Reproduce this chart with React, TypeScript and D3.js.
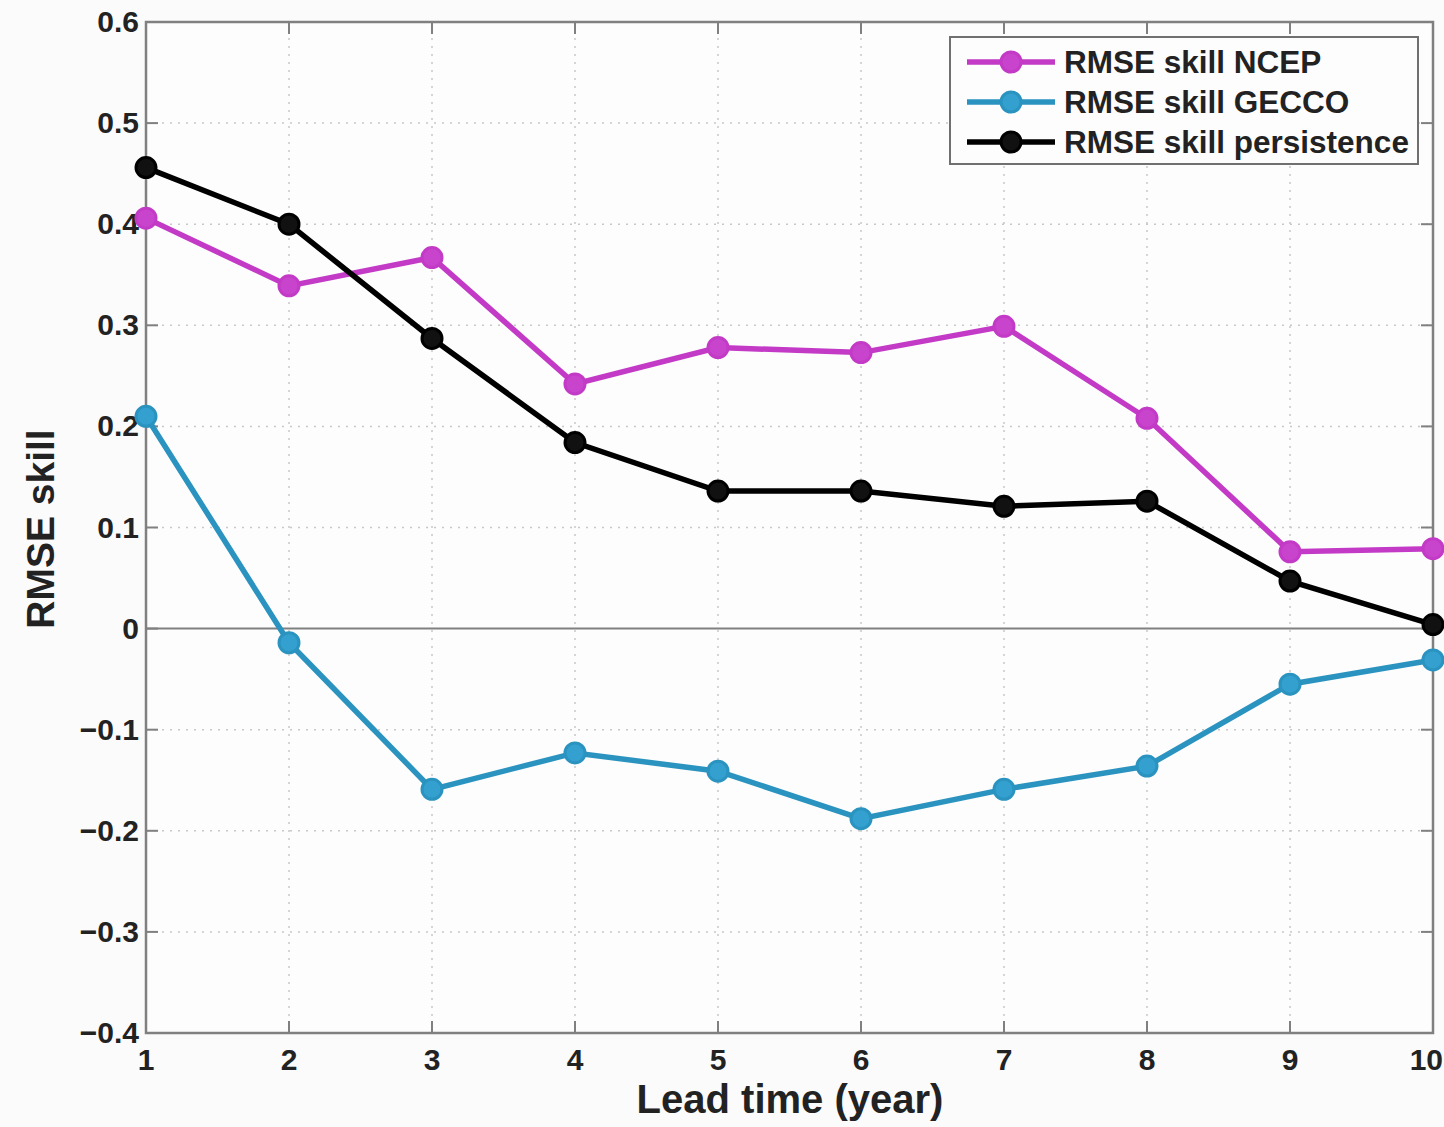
import React from "react";
import * as d3 from "d3";

const leadTimes = [1, 2, 3, 4, 5, 6, 7, 8, 9, 10];
const ncep = [0.406, 0.339, 0.367, 0.242, 0.278, 0.273, 0.299, 0.208, 0.076, 0.079];
const gecco = [0.21, -0.014, -0.159, -0.123, -0.141, -0.188, -0.159, -0.136, -0.055, -0.031];
const persistence = [0.456, 0.4, 0.287, 0.184, 0.136, 0.136, 0.121, 0.126, 0.047, 0.004];
const yTicks = [-0.4, -0.3, -0.2, -0.1, 0, 0.1, 0.2, 0.3, 0.4, 0.5, 0.6];
const seriesNames = ["RMSE skill NCEP", "RMSE skill GECCO", "RMSE skill persistence"];

const W = 1444, H = 1127;
const L = 146, R = 1433, T = 22, B = 1033;

export default function App() {
  const x = d3.scaleLinear().domain([1, 10]).range([L, R]);
  const y = d3.scaleLinear().domain([-0.4, 0.6]).range([B, T]);
  const line = d3.line<number>().x((_, i) => x(leadTimes[i])).y((d) => y(d));
  const series = [
    { name: seriesNames[0], data: ncep, stroke: "#c23ac6", fill: "#c944cc" },
    { name: seriesNames[1], data: gecco, stroke: "#2a93bf", fill: "#33a0d0" },
    { name: seriesNames[2], data: persistence, stroke: "#000000", fill: "#111111" },
  ];
  const font = "'Liberation Sans', Arial, Helvetica, sans-serif";
  return (
    <svg width={W} height={H} style={{ position: "absolute", left: 0, top: 0 }} fontFamily={font}>
      <rect x={0} y={0} width={W} height={H} fill="#fbfbfb" />
      <rect x={L} y={T} width={R - L} height={B - T} fill="#fdfdfd" />
      {leadTimes.slice(1, -1).map((t) => (
        <line key={"gx" + t} x1={x(t)} x2={x(t)} y1={T} y2={B} stroke="#c8c8c8" strokeWidth={1.5} strokeDasharray="2,6" />
      ))}
      {yTicks.slice(1, -1).filter((v) => v !== 0).map((v) => (
        <line key={"gy" + v} x1={L} x2={R} y1={y(v)} y2={y(v)} stroke="#c8c8c8" strokeWidth={1.5} strokeDasharray="2,6" />
      ))}
      <line x1={L} x2={R} y1={y(0)} y2={y(0)} stroke="#808080" strokeWidth={2} />
      <rect x={L} y={T} width={R - L} height={B - T} fill="none" stroke="#808080" strokeWidth={2.5} />
      {leadTimes.map((t, i) => {
        const last = i === leadTimes.length - 1;
        return (
          <g key={"tx" + t}>
            <line x1={x(t)} x2={x(t)} y1={B} y2={B - 12} stroke="#808080" strokeWidth={2} />
            <line x1={x(t)} x2={x(t)} y1={T} y2={T + 12} stroke="#808080" strokeWidth={2} />
            <text x={last ? W - 1 : x(t)} y={B + 37} textAnchor={last ? "end" : "middle"} fontSize={30} fontWeight="bold" fill="#222">{t}</text>
          </g>
        );
      })}
      {yTicks.map((v) => (
        <g key={"ty" + v}>
          <line x1={L} x2={L + 12} y1={y(v)} y2={y(v)} stroke="#808080" strokeWidth={2} />
          <line x1={R} x2={R - 12} y1={y(v)} y2={y(v)} stroke="#808080" strokeWidth={2} />
          <text x={L - 7} y={y(v) + 10} textAnchor="end" fontSize={30} fontWeight="bold" fill="#222">
            {v === 0 ? "0" : (v < 0 ? "\u2212" : "") + Math.abs(v).toFixed(1)}
          </text>
        </g>
      ))}
      {series.map((s) => (
        <g key={s.name}>
          <path d={line(s.data) || ""} fill="none" stroke={s.stroke} strokeWidth={5.5} />
          {s.data.map((d, i) => (
            <circle key={i} cx={x(leadTimes[i])} cy={y(d)} r={10} fill={s.fill} stroke={s.stroke} strokeWidth={3} />
          ))}
        </g>
      ))}
      <text x={790} y={1113} textAnchor="middle" fontSize={40} fontWeight="bold" fill="#222">Lead time (year)</text>
      <text transform={`translate(54, 529) rotate(-90)`} textAnchor="middle" fontSize={39} fontWeight="bold" fill="#222">RMSE skill</text>
      <g>
        <rect x={950} y={37} width={468} height={127} fill="#fdfdfd" stroke="#707070" strokeWidth={2} />
        {series.map((s, i) => {
          const yy = 62 + i * 40;
          return (
            <g key={"lg" + i}>
              <line x1={967} x2={1055} y1={yy} y2={yy} stroke={s.stroke} strokeWidth={5.5} />
              <circle cx={1011} cy={yy} r={10} fill={s.fill} stroke={s.stroke} strokeWidth={3} />
              <text x={1064} y={yy + 11} fontSize={31.5} fontWeight="bold" fill="#222">{s.name}</text>
            </g>
          );
        })}
      </g>
    </svg>
  );
}
